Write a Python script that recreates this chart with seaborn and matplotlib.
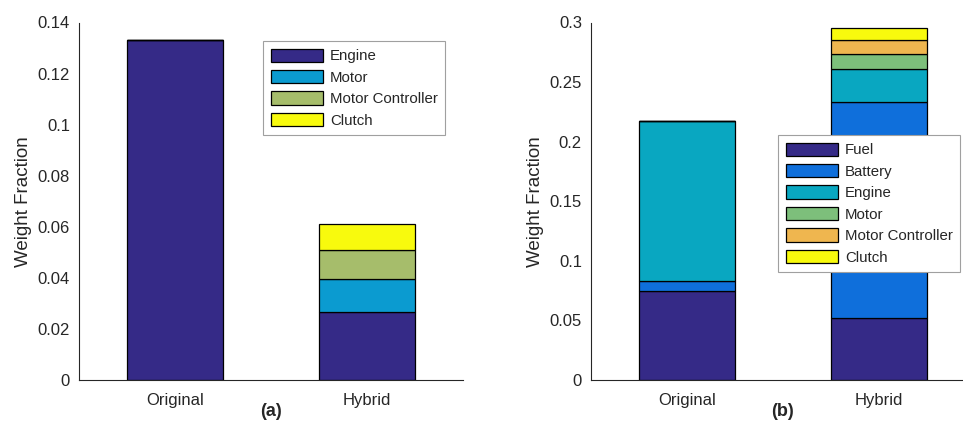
import numpy as np
import matplotlib
matplotlib.use("Agg")
import matplotlib.pyplot as plt
from matplotlib.ticker import FixedLocator, FuncFormatter
import seaborn as sns

# ---- data -----------------------------------------------------------------
configs = ["Original", "Hybrid"]

# (a) powertrain components
parts_a = ["Engine", "Motor", "Motor Controller", "Clutch"]
engine_a = [0.133, 0.0265]
motor_a = [0.0, 0.0129]
controller_a = [0.0, 0.0117]
clutch_a = [0.0, 0.0100]
colors_a = ["#352a87", "#0b9bd0", "#a6bd6b", "#f8fa0d"]

# (b) powertrain components including fuel and battery
parts_b = ["Fuel", "Battery", "Engine", "Motor", "Motor Controller", "Clutch"]
fuel_b = [0.0747, 0.0523]
battery_b = [0.0087, 0.1814]
engine_b = [0.1341, 0.0272]
motor_b = [0.0, 0.0126]
controller_b = [0.0, 0.0117]
clutch_b = [0.0, 0.0101]
colors_b = ["#352a87", "#0f6fdb", "#09a7c1", "#7dbf7b", "#efb64f", "#f8fa0d"]

yticks_a = [0, 0.02, 0.04, 0.06, 0.08, 0.1, 0.12, 0.14]
yticks_b = [0, 0.05, 0.1, 0.15, 0.2, 0.25, 0.3]

# ---- style ----------------------------------------------------------------
sns.set_theme(style="white")
text_col = "#262626"
plt.rcParams["font.family"] = ["Liberation Sans", "DejaVu Sans"]
plt.rcParams.update({
    "font.size": 11,
    "text.color": text_col,
    "axes.labelcolor": text_col,
    "xtick.color": text_col,
    "ytick.color": text_col,
    "axes.edgecolor": text_col,
})

W, H = 963, 421
fig = plt.figure(figsize=(W / 100, H / 100), dpi=100)


def stacked(ax, parts, series, colors):
    bottom = np.zeros(len(configs))
    for name, vals, col in zip(parts, series, colors):
        sns.barplot(x=configs, y=vals, order=configs, bottom=bottom,
                    color=col, saturation=1, width=0.5,
                    edgecolor="black", linewidth=0.9, label=name, ax=ax)
        bottom = bottom + np.asarray(vals)


def style_axes(ax, yticks, ymax, letter):
    ax.set_xlim(-0.5, 1.5)
    ax.set_ylim(0, ymax)
    ax.xaxis.set_major_locator(FixedLocator([-0.5, 0, 0.5, 1, 1.5]))
    ax.set_xticklabels(["", "Original", "", "Hybrid", ""])
    ax.yaxis.set_major_locator(FixedLocator(yticks))
    ax.yaxis.set_major_formatter(FuncFormatter(lambda v, p: f"{v:g}"))
    ax.tick_params(axis="both", direction="in", length=3, width=0.8,
                   labelsize=12)
    ax.tick_params(axis="y", pad=6.5)
    ax.tick_params(axis="x", pad=9)
    for s in ("top", "right"):
        ax.spines[s].set_visible(False)
    for s in ("left", "bottom"):
        ax.spines[s].set_linewidth(0.8)
        ax.spines[s].set_color(text_col)
    ax.set_ylabel("Weight Fraction", fontsize=13.5, labelpad=4)
    ax.set_xlabel(letter, fontsize=13, fontweight="bold", labelpad=-3)


def add_legend(ax, x_px, y_px):
    leg = ax.legend(loc="upper left",
                    bbox_to_anchor=(x_px / W, 1 - y_px / H),
                    bbox_transform=fig.transFigure,
                    fontsize=10.8, frameon=True, fancybox=False,
                    framealpha=1, edgecolor="#a0a0a0",
                    handlelength=3.5, handleheight=1.0,
                    handletextpad=0.45, labelspacing=0.44,
                    borderpad=0.5, borderaxespad=0)
    leg.get_frame().set_linewidth(0.8)
    for h in leg.legend_handles:
        h.set_edgecolor("black")
        h.set_linewidth(0.9)
    return leg


ax_a = fig.add_axes([79 / W, 1 - 380 / H, 384 / W, 357.5 / H])
stacked(ax_a, parts_a, [engine_a, motor_a, controller_a, clutch_a], colors_a)
style_axes(ax_a, yticks_a, 0.14, "(a)")
add_legend(ax_a, 263, 41)

ax_b = fig.add_axes([591 / W, 1 - 380 / H, 384 / W, 357.5 / H])
stacked(ax_b, parts_b,
        [fuel_b, battery_b, engine_b, motor_b, controller_b, clutch_b],
        colors_b)
style_axes(ax_b, yticks_b, 0.3, "(b)")
add_legend(ax_b, 778, 135)

fig.savefig("out.png", dpi=100)
